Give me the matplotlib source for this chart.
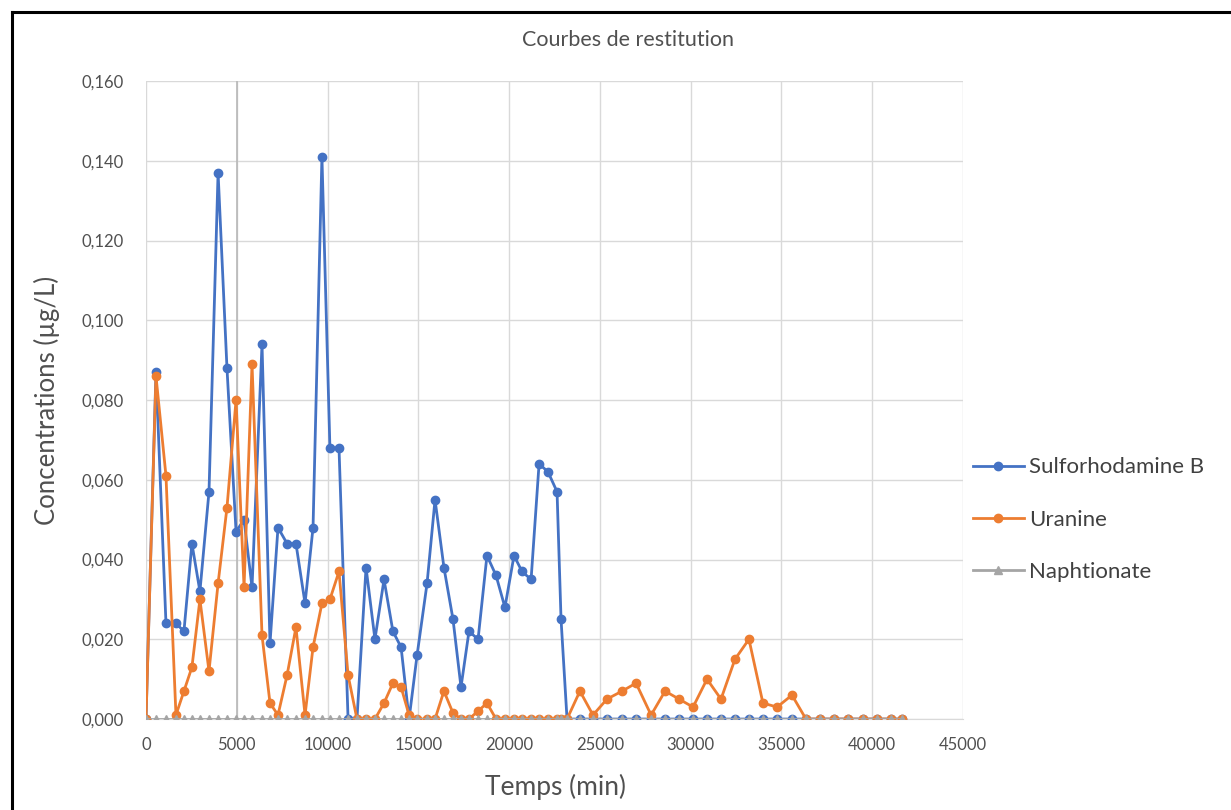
import matplotlib
matplotlib.use('Agg')
import matplotlib.pyplot as plt
from matplotlib.lines import Line2D
from matplotlib.ticker import FuncFormatter, MultipleLocator

plt.rcParams['font.family'] = ['Lato', 'DejaVu Sans']

# Sampling times (min)
temps = [
    0, 550, 1100, 1650, 2090, 2530, 2970, 3470, 3970, 4460,
    4960, 5400, 5840, 6390, 6830, 7270, 7770, 8260, 8760, 9200,
    9690, 10130, 10630, 11130, 11620, 12120, 12610, 13110, 13600, 14050,
    14490, 14930, 15480, 15920, 16410, 16910, 17350, 17790, 18290, 18780,
    19280, 19770, 20270, 20710, 21210, 21650, 22140, 22640, 22860, 23190,
    23900, 24620, 25390, 26220, 26990, 27820, 28590, 29360, 30130, 30900,
    31670, 32440, 33210, 33980, 34760, 35580, 36350, 37120, 37900, 38670,
    39490, 40260, 41040, 41640,
]

sulforhodamine = [
    0.000, 0.087, 0.024, 0.024, 0.022, 0.044, 0.032, 0.057, 0.137, 0.088,
    0.047, 0.050, 0.033, 0.094, 0.019, 0.048, 0.044, 0.044, 0.029, 0.048,
    0.141, 0.068, 0.068, 0.000, 0.000, 0.038, 0.020, 0.035, 0.022, 0.018,
    0.000, 0.016, 0.034, 0.055, 0.038, 0.025, 0.008, 0.022, 0.020, 0.041,
    0.036, 0.028, 0.041, 0.037, 0.035, 0.064, 0.062, 0.057, 0.025, 0.000,
    0.000, 0.000, 0.000, 0.000, 0.000, 0.000, 0.000, 0.000, 0.000, 0.000,
    0.000, 0.000, 0.000, 0.000, 0.000, 0.000, 0.000, 0.000, 0.000, 0.000,
    0.000, 0.000, 0.000, 0.000,
]

uranine = [
    0.000, 0.086, 0.061, 0.001, 0.007, 0.013, 0.030, 0.012, 0.034, 0.053,
    0.080, 0.033, 0.089, 0.021, 0.004, 0.001, 0.011, 0.023, 0.001, 0.018,
    0.029, 0.030, 0.037, 0.011, 0.000, 0.000, 0.000, 0.004, 0.009, 0.008,
    0.001, 0.000, 0.000, 0.000, 0.007, 0.0015, 0.000, 0.000, 0.002, 0.004,
    0.000, 0.000, 0.000, 0.000, 0.000, 0.000, 0.000, 0.000, 0.000, 0.000,
    0.007, 0.001, 0.005, 0.007, 0.009, 0.001, 0.007, 0.005, 0.003, 0.010,
    0.005, 0.015, 0.020, 0.004, 0.003, 0.006, 0.000, 0.000, 0.000, 0.000,
    0.000, 0.000, 0.000, 0.000,
]

naphtionate = [0.0] * len(temps)

series_names = ['Sulforhodamine B', 'Uranine', 'Naphtionate']
series_colors = ['#4472C4', '#ED7D31', '#A5A5A5']
text_color = '#505050'

fig = plt.figure(figsize=(12.31, 8.10), dpi=100)
ax = fig.add_axes([0.1186, 0.1123, 0.6637, 0.7877])

ax.plot(temps, sulforhodamine, color=series_colors[0], lw=2, marker='o',
        ms=6, zorder=3)
ax.plot(temps, uranine, color=series_colors[1], lw=2, marker='o',
        ms=6, zorder=4)
ax.plot(temps, naphtionate, color=series_colors[2], lw=2, marker='^',
        ms=5.5, zorder=5)

ax.set_xlim(0, 45000)
ax.set_ylim(0, 0.160)
ax.xaxis.set_major_locator(MultipleLocator(5000))
ax.yaxis.set_major_locator(MultipleLocator(0.020))
ax.yaxis.set_major_formatter(FuncFormatter(lambda v, p: f'{v:.3f}'.replace('.', ',')))
ax.xaxis.set_major_formatter(FuncFormatter(lambda v, p: f'{int(round(v))}'))

ax.grid(True, color='#D9D9D9', lw=1)
ax.axvline(5000, color='#B8B8B8', lw=1.2, zorder=1)
ax.set_axisbelow(True)
for s in ['top', 'right', 'left']:
    ax.spines[s].set_visible(False)
ax.spines['bottom'].set_color('#D9D9D9')
ax.tick_params(length=0, labelsize=12, labelcolor=text_color)
ax.tick_params(axis='y', pad=16)
ax.tick_params(axis='x', pad=13)

fig.text(0.510, 0.951, 'Courbes de restitution', ha='center', va='center',
         fontsize=15.5, color=text_color)
fig.text(0.038, 0.506, 'Concentrations (µg/L)', rotation=90, ha='center',
         va='center', fontsize=18.5, color=text_color)
fig.text(0.451, 0.0284, 'Temps (min)', ha='center', va='center',
         fontsize=19, color=text_color)

handles = [Line2D([], [], color=series_colors[0], lw=2, marker='o', ms=6),
           Line2D([], [], color=series_colors[1], lw=2, marker='o', ms=6),
           Line2D([], [], color=series_colors[2], lw=2, marker='^', ms=5.5)]
leg = fig.legend(handles, series_names, loc='center left',
                 bbox_to_anchor=(0.783, 0.3586), frameon=False, fontsize=16,
                 labelspacing=1.45, handlelength=2.3, handletextpad=0.25,
                 borderaxespad=0.0)
for t in leg.get_texts():
    t.set_color('#404040')

# chart border (left and top edges visible)
fig.add_artist(Line2D([0.0098, 0.0098], [0.0, 0.985], color='black', lw=2.2,
                      transform=fig.transFigure))
fig.add_artist(Line2D([0.0098, 1.0], [0.985, 0.985], color='black', lw=2.2,
                      transform=fig.transFigure))

fig.savefig('out.png', dpi=100, facecolor='white')
plt.close(fig)
